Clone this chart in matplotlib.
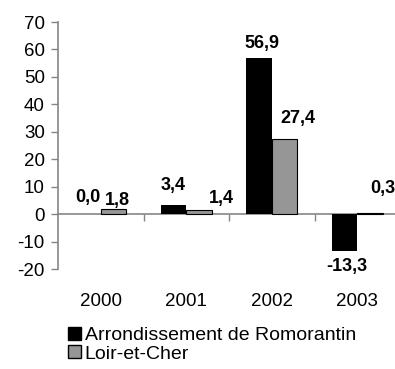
import numpy as np
import matplotlib
matplotlib.use('Agg')
import matplotlib.pyplot as plt
from matplotlib.patches import Patch

years = ['2000', '2001', '2002', '2003']
romorantin = [0.0, 3.4, 56.9, -13.3]
loir_et_cher = [1.8, 1.4, 27.4, 0.3]
series_names = ['Arrondissement de Romorantin', 'Loir-et-Cher']
yticks = list(range(-20, 80, 10))

# label nudges in pixels (dx, dy of baseline from bar end)
romorantin_offsets = [(0, 12), (0, 15), (3, 10), (2, -20)]
loir_offsets = [(4, 4), (22, 7), (13, 16), (13, 20)]

plt.rcParams['font.family'] = ['Liberation Sans', 'DejaVu Sans']
plt.rcParams['axes.unicode_minus'] = False
fig = plt.figure(figsize=(3.95, 3.69), dpi=100)
ax = fig.add_axes([58 / 395, 100 / 369, 342 / 395, 247 / 369])

x = np.arange(len(years))
width = 0.3
bars1 = ax.bar(x - width / 2, romorantin, width, color='black', linewidth=0)
bars2 = ax.bar(x + width / 2, loir_et_cher, width, color='#969696', edgecolor='black', linewidth=0.8)

ax.set_xlim(-0.5, 3.5)
ax.set_ylim(-20, 70)
ax.set_yticks(yticks)
ax.tick_params(axis='y', length=5, width=1, color='#868686', labelsize=13.5, pad=4.5)

for s in ['top', 'right', 'bottom']:
    ax.spines[s].set_visible(False)
ax.spines['left'].set_color('#868686')
ax.spines['left'].set_linewidth(1.2)

# category labels along the bottom, no tick marks
ax.set_xticks(x)
ax.set_xticklabels(years)
ax.tick_params(axis='x', length=0, labelsize=13.5, pad=17.5)

# zero line with boundary ticks
zero = ax.secondary_xaxis(20 / 90)
zero.set_xticks([0.5, 1.5, 2.5])
zero.set_xticklabels([])
zero.tick_params(axis='x', length=5, width=1, color='#868686')
zero.spines['bottom'].set_color('#868686')
zero.spines['bottom'].set_linewidth(1.2)

for bars, vals, offs in [(bars1, romorantin, romorantin_offsets), (bars2, loir_et_cher, loir_offsets)]:
    for b, v, (dx, dy) in zip(bars, vals, offs):
        ax.annotate(f'{v:.1f}'.replace('.', ','),
                    xy=(b.get_x() + b.get_width() / 2, v),
                    xytext=(dx, dy), textcoords='offset pixels',
                    ha='center', va='baseline', fontsize=13, fontweight='bold',
                    annotation_clip=False)

handles = [Patch(facecolor='black', edgecolor='black'),
           Patch(facecolor='#969696', edgecolor='black')]
fig.legend(handles, series_names, loc='upper left', bbox_to_anchor=(68 / 395, 42 / 369),
           frameon=False, fontsize=14, handlelength=0.65, handleheight=0.65,
           handletextpad=0.2, labelspacing=0.05, borderpad=0, borderaxespad=0)

fig.savefig('out.png', dpi=100)
